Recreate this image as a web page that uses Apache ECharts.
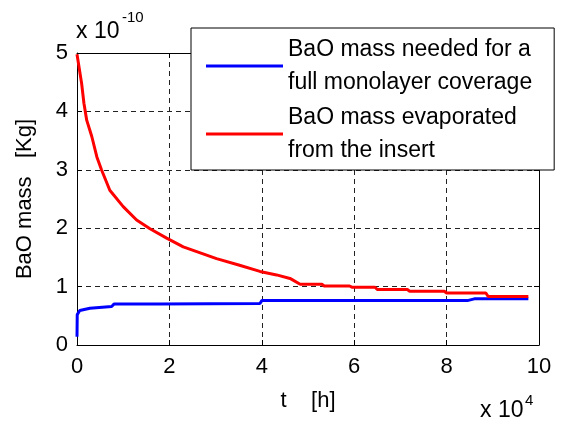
<!DOCTYPE html>
<html>
<head>
<meta charset="utf-8">
<script src="https://cdn.jsdelivr.net/npm/echarts@6/dist/echarts.min.js"></script>
<style>
html,body{margin:0;padding:0;background:#fff;}
#c{width:570px;height:423px;}
</style>
</head>
<body>
<div id="c"></div>
<script>
// Data (t in units of 1e4 h, mass in units of 1e-10 kg)
var blueName = 'BaO mass needed for a\nfull monolayer coverage';
var redName = 'BaO mass evaporated\nfrom the insert';
var blueT = [0, 0.005, 0.06, 0.28, 0.3, 0.75, 0.8, 1.76, 1.8, 3.96, 4.0, 8.45, 8.6, 9.77];
var blueV = [0.14, 0.52, 0.59, 0.63, 0.66, 0.66, 0.70, 0.70, 0.71, 0.71, 0.76, 0.76, 0.79, 0.79];
var redT = [0, 0.04, 0.1, 0.15, 0.21, 0.32, 0.43, 0.53, 0.71, 1.0, 1.29, 1.58, 1.94, 2.3, 3.02, 3.5, 3.96, 4.32, 4.61, 4.83, 5.3, 5.35, 5.9, 5.95, 6.45, 6.5, 7.15, 7.2, 7.95, 8.0, 8.85, 8.9, 9.77];
var redV = [4.98, 4.95, 4.48, 4.14, 3.85, 3.57, 3.22, 3.0, 2.65, 2.37, 2.14, 1.99, 1.83, 1.68, 1.48, 1.37, 1.26, 1.2, 1.14, 1.04, 1.04, 1.01, 1.01, 0.99, 0.99, 0.95, 0.95, 0.92, 0.92, 0.89, 0.89, 0.83, 0.83];
var xTicks = [0, 2, 4, 6, 8, 10];
var yTicks = [0, 1, 2, 3, 4, 5];

function pairs(a, b) { return a.map(function (v, i) { return [v, b[i]]; }); }
var FF = '"Liberation Sans", Arial, sans-serif';
var FS = 22;
var chart = echarts.init(document.getElementById('c'));
var gridLine = { show: true, lineStyle: { color: '#222', type: [5, 4], width: 1 } };
function txt(x, y, s, size, align) {
  return { type: 'text', x: x, y: y, style: { text: s, fontFamily: FF, fontSize: size, fill: '#000', align: align || 'left', verticalAlign: 'middle' } };
}
chart.setOption({
  animation: false,
  backgroundColor: '#fff',
  grid: { left: 77, right: 31, top: 53, bottom: 78 },
  xAxis: [{
    type: 'value', min: xTicks[0], max: xTicks[xTicks.length - 1], interval: 2,
    name: 't    [h]', nameLocation: 'middle', nameGap: 45,
    nameTextStyle: { fontFamily: FF, fontSize: FS, color: '#000' },
    axisLine: { show: true, onZero: false, lineStyle: { color: '#000', width: 1 } },
    axisTick: { show: true, inside: true, length: 5, lineStyle: { color: '#000' } },
    axisLabel: { fontFamily: FF, fontSize: FS, color: '#000', margin: 11 },
    splitLine: gridLine
  }, {
    type: 'value', position: 'top', min: 0, max: 10, interval: 2,
    axisLine: { show: true, onZero: false, lineStyle: { color: '#000', width: 1 } },
    axisTick: { show: true, inside: true, length: 5, lineStyle: { color: '#000' } },
    axisLabel: { show: false }, splitLine: { show: false }
  }],
  yAxis: [{
    type: 'value', min: yTicks[0], max: yTicks[yTicks.length - 1], interval: 1,
    name: 'BaO mass   [Kg]', nameLocation: 'middle', nameGap: 41,
    nameTextStyle: { fontFamily: FF, fontSize: FS, color: '#000' },
    axisLine: { show: true, onZero: false, lineStyle: { color: '#000', width: 1 } },
    axisTick: { show: true, inside: true, length: 5, lineStyle: { color: '#000' } },
    axisLabel: { fontFamily: FF, fontSize: FS, color: '#000', margin: 9 },
    splitLine: gridLine
  }, {
    type: 'value', position: 'right', min: 0, max: 5, interval: 1,
    axisLine: { show: true, onZero: false, lineStyle: { color: '#000', width: 1 } },
    axisTick: { show: true, inside: true, length: 5, lineStyle: { color: '#000' } },
    axisLabel: { show: false }, splitLine: { show: false }
  }],
  legend: {
    left: 191, top: 28, orient: 'vertical',
    backgroundColor: '#fff', borderColor: '#000', borderWidth: 1,
    padding: [5, 22, 3, 15], itemGap: 2,
    itemWidth: 77, itemHeight: 3, icon: 'rect', itemTextGap: 9,
    textStyle: { fontFamily: FF, fontSize: 23, color: '#000', lineHeight: 33 },
    data: [blueName, redName]
  },
  graphic: [
    txt(76, 32, 'x 10', 23),
    txt(122, 18, '-10', 15),
    txt(480, 411, 'x 10', 23),
    txt(525, 401, '4', 15)
  ],
  series: [
    { name: blueName, type: 'line', data: pairs(blueT, blueV), showSymbol: false, symbol: 'none',
      lineStyle: { color: '#0000ff', width: 3 }, itemStyle: { color: '#0000ff' }, z: 3 },
    { name: redName, type: 'line', data: pairs(redT, redV), showSymbol: false, symbol: 'none',
      lineStyle: { color: '#ff0000', width: 3 }, itemStyle: { color: '#ff0000' }, z: 3 }
  ]
});
</script>
</body>
</html>
